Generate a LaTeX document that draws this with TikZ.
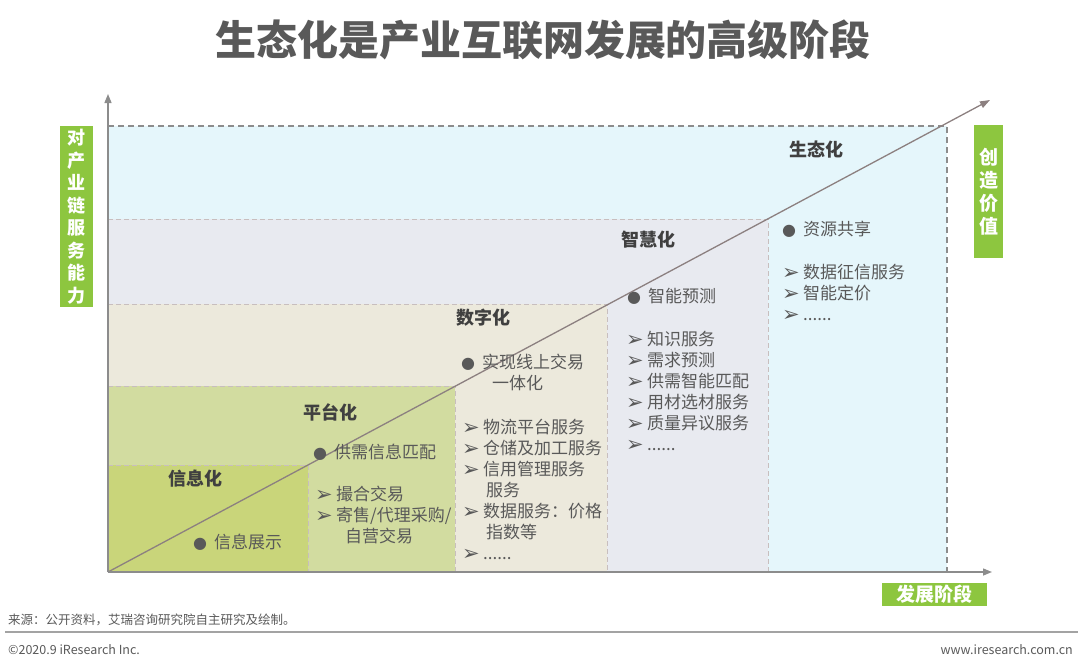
\documentclass[tikz,border=0pt]{standalone}
\usepackage{fontspec}
\setmainfont{Noto Sans CJK SC}
\newfontfamily\symfont{DejaVu Sans}
\usepackage{xcolor}
\usepackage{tikz}
\usetikzlibrary{arrows.meta}

\definecolor{ecoblue}{RGB}{229,246,251}
\definecolor{smartgray}{RGB}{232,234,240}
\definecolor{digibeige}{RGB}{236,233,220}
\definecolor{platgreen}{RGB}{210,220,160}
\definecolor{infogreen}{RGB}{201,213,122}
\definecolor{taggreen}{RGB}{141,198,63}
\definecolor{txtgray}{RGB}{89,89,89}
\definecolor{labgray}{RGB}{64,64,64}
\definecolor{axisgray}{RGB}{140,140,140}
\definecolor{diaggray}{RGB}{140,128,128}
\definecolor{dashgray}{RGB}{200,190,190}

\newcommand{\arw}{\makebox[21pt][l]{\symfont\fontsize{21}{17}\selectfont\raisebox{-1pt}{➢}}}
\newcommand{\dotb}{\makebox[21pt][l]{\symfont\fontsize{16}{16}\selectfont ●}}

\tikzset{
  stage/.style={inner sep=0pt, text=labgray, font=\bfseries\fontsize{18}{18}\selectfont},
  body/.style={anchor=north west, inner sep=0pt, align=left, text=txtgray,
    font=\fontsize{17}{21}\selectfont},
  tag/.style={fill=taggreen, text=white, inner sep=0pt, align=center},
  ecoline/.style={axisgray, line width=1.3pt, dash pattern=on 6pt off 4pt},
  stageline/.style={dashgray, line width=1pt, dash pattern=on 5pt off 3pt},
  axis/.style={axisgray, line width=1.4pt, -{Triangle[length=9pt,width=7pt]}},
  foot/.style={inner sep=0pt, text=txtgray, font=\fontsize{12.5}{12.5}\selectfont}
}

\begin{document}
\begin{tikzpicture}[x=1pt, y=-1pt]
	\useasboundingbox (0,0) rectangle (1080,670);

	% 标题
	\node[inner sep=0pt, text=txtgray, font=\bfseries\fontsize{41}{41}\selectfont] (title) at (543,40) {生态化是产业互联网发展的高级阶段};

	% 五个阶段的区域
	\fill[ecoblue] (108,126) rectangle (947,572);
	\fill[smartgray] (108,219) rectangle (768,572);
	\fill[digibeige] (108,304) rectangle (607,572);
	\fill[platgreen] (108,386) rectangle (455,572);
	\fill[infogreen] (108,465) rectangle (308,572);

	\draw[ecoline] (108,126) -- (947,126) -- (947,572);
	\draw[stageline] (108,219) -- (768,219) -- (768,572);
	\draw[stageline] (108,304) -- (607,304) -- (607,572);
	\draw[stageline] (108,386) -- (455,386) -- (455,572);
	\draw[stageline] (108,465) -- (308,465) -- (308,572);

	% 坐标轴与对角线
	\coordinate (o) at (108,572);
	\coordinate (ytip) at (108,94);
	\coordinate (xtip) at (992,572);
	\coordinate (dtip) at (990,100);
	\draw[diaggray, line width=1.3pt, -{Triangle[length=10pt,width=7pt]}] (o) -- (dtip);
	\draw[axis] (o) -- (ytip);
	\draw[axis] (o) -- (xtip);

	% 轴标签
	\node[tag, minimum width=33pt, minimum height=181pt, font=\bfseries\fontsize{18}{22.5}\selectfont] (ylab) at (76.5,216.5) {对\\产\\业\\链\\服\\务\\能\\力};
	\node[tag, minimum width=29pt, minimum height=133pt, font=\bfseries\fontsize{19}{23}\selectfont] (rlab) at (988.5,191.5) {创\\造\\价\\值};
	\node[tag, minimum width=105pt, minimum height=23pt, font=\bfseries\fontsize{19}{19}\selectfont] (xlab) at (934.5,594) {发展阶段};

	% 信息化
	\node[stage] (info) at (195,479) {信息化};
	\node[body] (infoa) at (193,534) {\dotb 信息展示};

	% 平台化
	\node[stage] (plat) at (330,412) {平台化};
	\node[body] (plata) at (313,444) {\dotb 供需信息匹配};
	\node[body] (platb) at (315,486) {\arw 撮合交易\\\arw 寄售/代理采购/\\\hspace*{30pt}自营交易};

	% 数字化
	\node[stage] (digi) at (483,318) {数字化};
	\node[body] (digia) at (461,354) {\dotb 实现线上交易\\\hspace*{31pt}一体化};
	\node[body] (digib) at (462,419) {\arw 物流平台服务\\\arw 仓储及加工服务\\\arw 信用管理服务\\\hspace*{24pt}服务\\\arw 数据服务：价格\\\hspace*{24pt}指数等\\\arw ......};

	% 智慧化
	\node[stage] (smart) at (648,240) {智慧化};
	\node[body] (smarta) at (627,288) {\dotb 智能预测};
	\node[body] (smartb) at (626,331) {\arw 知识服务\\\arw 需求预测\\\arw 供需智能匹配\\\arw 用材选材服务\\\arw 质量异议服务\\\arw ......};

	% 生态化
	\node[stage] (eco) at (816,150) {生态化};
	\node[body] (ecoa) at (782,221) {\dotb 资源共享};
	\node[body] (ecob) at (782,264) {\arw 数据征信服务\\\arw 智能定价\\\arw ......};

	% 页脚
	\node[foot, anchor=west] (src) at (8,620) {来源：公开资料，艾瑞咨询研究院自主研究及绘制。};
	\draw[axisgray!80, line width=2pt] (5,632) -- (1078,632);
	\node[foot, anchor=west] (copy) at (8,650) {©2020.9 iResearch Inc.};
	\node[foot, anchor=east] (web) at (1073,650) {www.iresearch.com.cn};
\end{tikzpicture}
\end{document}
